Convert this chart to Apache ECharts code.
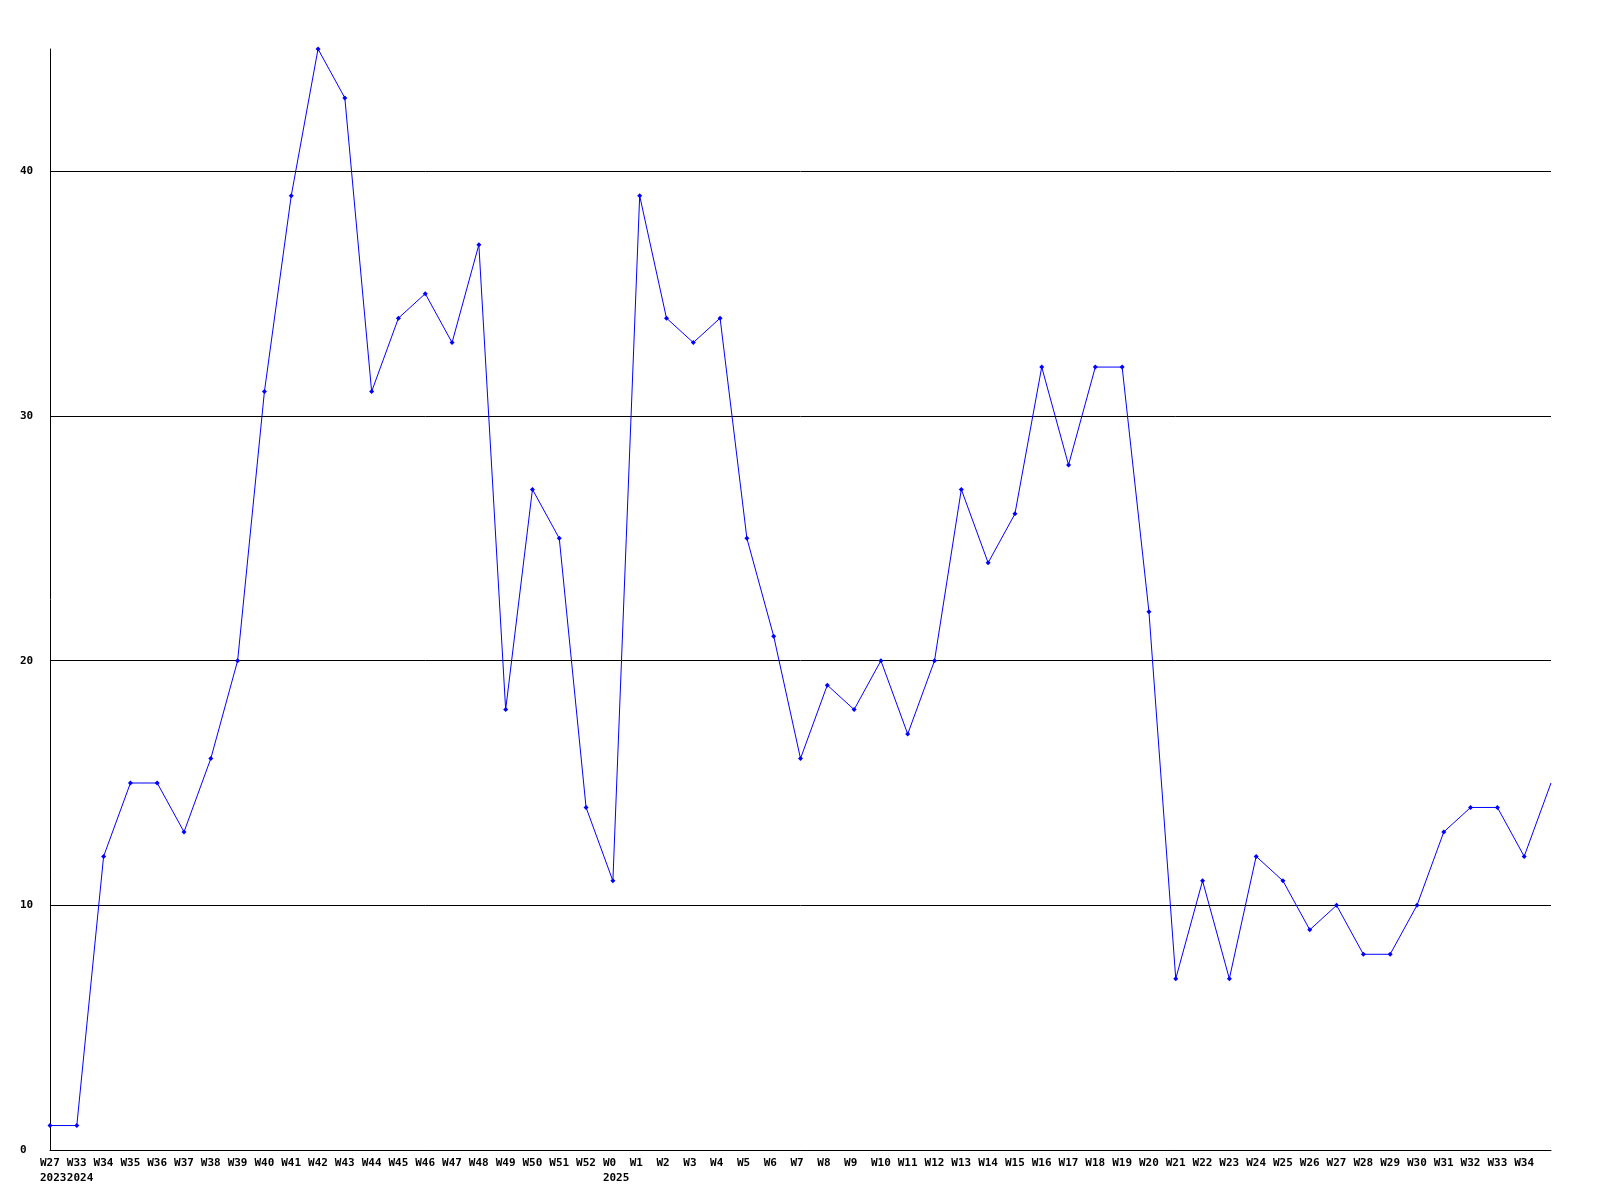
<!DOCTYPE html>
<html>
<head>
<meta charset="utf-8">
<script src="https://cdn.jsdelivr.net/npm/echarts@6/dist/echarts.min.js"></script>
<style>html,body{margin:0;padding:0;background:#fff;}#c{width:1600px;height:1200px;}</style>
</head>
<body>
<div id="c"></div>
<script>
const weeks = ['W27','W33','W34','W35','W36','W37','W38','W39','W40','W41','W42','W43','W44','W45','W46','W47','W48','W49','W50','W51','W52',
  'W0','W1','W2','W3','W4','W5','W6','W7','W8','W9','W10','W11','W12','W13','W14','W15','W16','W17','W18','W19','W20',
  'W21','W22','W23','W24','W25','W26','W27','W28','W29','W30','W31','W32','W33','W34','W35'];
const yearLabels = {0:'2023', 1:'2024', 21:'2025'};
const values = [1,1,12,15,15,13,16,20,31,39,45,43,31,34,35,33,37,18,27,25,14,
  11,39,34,33,34,25,21,16,19,18,20,17,20,27,24,26,32,28,32,32,22,
  7,11,7,12,11,9,10,8,8,10,13,14,14,12,15];
const yTicks = [0,10,20,30,40];

const last = values.length - 1;
const seriesData = values.map((v,i) => i === last ? {value: v, symbol: 'none'} : v);

const labelFont = {fontFamily: 'DejaVu Sans Mono', fontWeight: 'bold', fontSize: 11, lineHeight: 15, color: '#000'};

const chart = echarts.init(document.getElementById('c'), null, {renderer:'canvas'});
chart.setOption({
  animation: false,
  backgroundColor: '#fff',
  grid: {left: 50, right: 49, top: 49, bottom: 50, containLabel: false},
  xAxis: {
    type: 'category',
    data: weeks,
    boundaryGap: false,
    axisLine: {lineStyle: {color: '#000', width: 1}},
    axisTick: {show: false},
    splitLine: {show: false},
    axisLabel: Object.assign({
      interval: (i) => i !== last,
      hideOverlap: false,
      margin: 6,
      align: 'center',
      formatter: (v, i) => '{a|' + v + '}\n{a|' + (yearLabels[i] || ' ') + '}',
      rich: {a: Object.assign({width: 20, align: 'left'}, labelFont)}
    }, labelFont)
  },
  yAxis: {
    type: 'value',
    min: 0,
    max: 45,
    interval: 10,
    axisLine: {show: true, lineStyle: {color: '#000', width: 1}},
    axisTick: {show: false},
    splitLine: {show: true, showMaxLine: false, lineStyle: {color: '#000', width: 1}},
    axisLabel: {
      margin: 30,
      align: 'left',
      color: '#000',
      fontFamily: 'DejaVu Sans Mono',
      fontWeight: 'bold',
      fontSize: 11,
      showMaxLabel: false,
      formatter: v => yTicks.includes(v) ? String(v) : ''
    }
  },
  series: [{
    type: 'line',
    data: seriesData,
    symbol: 'diamond',
    symbolSize: 5,
    showAllSymbol: true,
    lineStyle: {color: '#0000ff', width: 1},
    itemStyle: {color: '#0000ff'}
  }]
});
</script>
</body>
</html>
